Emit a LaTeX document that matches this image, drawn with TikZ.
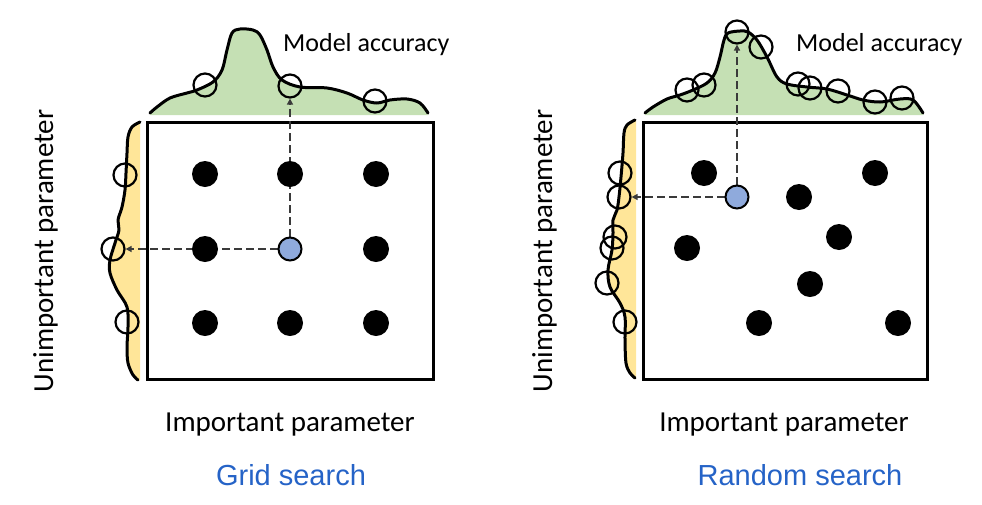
\documentclass[tikz,border=0pt]{standalone}
\usepackage{fontspec}
\setmainfont{Carlito}
\newfontfamily\arialfont{Liberation Sans}
\usetikzlibrary{arrows.meta}
\pgfdeclarelayer{bg}
\pgfdeclarelayer{mid}
\pgfsetlayers{bg,mid,main}
\definecolor{accgreen}{HTML}{C5E0B4}
\definecolor{accyellow}{HTML}{FFE699}
\definecolor{dotblue}{HTML}{8FAADC}
\definecolor{titleblue}{HTML}{2563C7}
\definecolor{dashgray}{HTML}{3A3A3A}
\tikzset{
  dot/.style={circle, fill=black, minimum size=26pt, inner sep=0pt},
  bluedot/.style={circle, fill=dotblue, draw=black, line width=2pt, minimum size=23pt, inner sep=0pt},
  ring/.style={circle, draw=black, line width=2.2pt, minimum size=23pt, inner sep=0pt},
  frame/.style={draw=black, line width=3pt},
  curve/.style={draw=black, line width=3pt, line join=round, line cap=round},
  probe/.style={draw=dashgray, line width=1.6pt, dash pattern=on 8pt off 4pt, -{Triangle[length=6pt,width=6pt]}},
  lab/.style={inner sep=0pt, font=\fontsize{29}{34}\selectfont},
  acc/.style={inner sep=0pt, font=\fontsize{26}{31}\selectfont, anchor=base west},
  title/.style={inner sep=0pt, font=\arialfont\fontsize{29}{34}\selectfont, text=titleblue, anchor=base}
}
\begin{document}
\begin{tikzpicture}[x=1pt,y=-1pt]
\useasboundingbox (0,0) rectangle (982,504);

% ---------------- background: fills, curves, frames
\begin{pgfonlayer}{bg}
% left panel top
\fill[accgreen] (150,115) -- plot[smooth, tension=0.55] coordinates {(150,113) (157,107) (170,98) (187,93) (197,90) (213,82) (222,70) (227,50) (232,33) (240,29) (253,30) (260,35) (267,50) (273,67) (282,80) (300,87) (327,88) (347,93) (363,100) (377,103) (390,100) (407,99) (420,103) (428,113)} -- (428,115) -- cycle;
\draw[curve] plot[smooth, tension=0.55] coordinates {(150,113) (157,107) (170,98) (187,93) (197,90) (213,82) (222,70) (227,50) (232,33) (240,29) (253,30) (260,35) (267,50) (273,67) (282,80) (300,87) (327,88) (347,93) (363,100) (377,103) (390,100) (407,99) (420,103) (428,113)};
% left panel side
\fill[accyellow] (140,122) -- plot[smooth, tension=0.55] coordinates {(140,122) (132,127) (128,137) (127,153) (126,173) (125,190) (122,207) (118,220) (119,230) (115,243) (110,260) (110,273) (117,290) (127,307) (128,327) (127,347) (128,363) (133,375) (138,380)} -- (140,380) -- cycle;
\draw[curve] plot[smooth, tension=0.55] coordinates {(140,122) (132,127) (128,137) (127,153) (126,173) (125,190) (122,207) (118,220) (119,230) (115,243) (110,260) (110,273) (117,290) (127,307) (128,327) (127,347) (128,363) (133,375) (138,380)};
% right panel top
\fill[accgreen] (645,115) -- plot[smooth, tension=0.55] coordinates {(645,113) (653,107) (667,99) (680,95) (693,90) (707,83) (715,73) (720,57) (724,40) (728,33) (740,31) (748,32) (757,40) (767,57) (777,77) (787,84) (807,87) (827,89) (847,95) (863,100) (880,102) (900,99) (913,100) (923,113)} -- (923,115) -- cycle;
\draw[curve] plot[smooth, tension=0.55] coordinates {(645,113) (653,107) (667,99) (680,95) (693,90) (707,83) (715,73) (720,57) (724,40) (728,33) (740,31) (748,32) (757,40) (767,57) (777,77) (787,84) (807,87) (827,89) (847,95) (863,100) (880,102) (900,99) (913,100) (923,113)};
% right panel side
\fill[accyellow] (636,120) -- plot[smooth, tension=0.55] coordinates {(635,120) (627,125) (624,133) (623,153) (621,177) (619,197) (617,210) (613,220) (613,233) (612,250) (608,270) (610,287) (620,303) (625,317) (625,340) (626,363) (630,373) (635,378)} -- (636,378) -- cycle;
\draw[curve] plot[smooth, tension=0.55] coordinates {(635,120) (627,125) (624,133) (623,153) (621,177) (619,197) (617,210) (613,220) (613,233) (612,250) (608,270) (610,287) (620,303) (625,317) (625,340) (626,363) (630,373) (635,378)};
% frames
\draw[frame] (147,122) rectangle (433,379);
\draw[frame] (643,122) rectangle (927,379);
\end{pgfonlayer}

% ---------------- left panel (grid search)
\node[dot] (d11) at (205,174) {};
\node[dot] (d12) at (290,174) {};
\node[dot] (d13) at (376,174) {};
\node[dot] (d21) at (205,249) {};
\node[bluedot] (bL) at (290,249) {};
\node[dot] (d23) at (376,249) {};
\node[dot] (d31) at (205,323) {};
\node[dot] (d32) at (290,323) {};
\node[dot] (d33) at (376,323) {};

\node[ring] (a1) at (205,85) {};
\node[ring] (a2) at (290,86) {};
\node[ring] (a3) at (375,101) {};
\node[ring] (s1) at (125,175) {};
\node[ring] (s2) at (113,249) {};
\node[ring] (s3) at (127,322) {};

% ---------------- right panel (random search)
\node[dot] (r1) at (704,173) {};
\node[dot] (r2) at (875,173) {};
\node[dot] (r3) at (799,197) {};
\node[bluedot] (bR) at (737,197) {};
\node[dot] (r4) at (839,237) {};
\node[dot] (r5) at (687,248) {};
\node[dot] (r6) at (810,284) {};
\node[dot] (r7) at (759,323) {};
\node[dot] (r8) at (898,323) {};

\node[ring] (A1) at (687,90) {};
\node[ring] (A2) at (704,85) {};
\node[ring] (A3) at (737,32) {};
\node[ring] (A4) at (761,47) {};
\node[ring] (A5) at (798,84) {};
\node[ring] (A6) at (810,88) {};
\node[ring] (A7) at (838,91) {};
\node[ring] (A8) at (875,102) {};
\node[ring] (A9) at (902,98) {};
\node[ring] (S1) at (620,173) {};
\node[ring] (S2) at (619,197) {};
\node[ring] (S3) at (615,237) {};
\node[ring] (S4) at (612,248) {};
\node[ring] (S5) at (607,283) {};
\node[ring] (S6) at (625,322) {};

% ---------------- probes
\begin{pgfonlayer}{mid}
\draw[probe] (bL) -- (a2);
\draw[probe] (bL) -- (s2);
\draw[probe] (bR) -- (A3);
\draw[probe] (bR) -- (S2);
\end{pgfonlayer}

% ---------------- labels
\node[acc] (accL) at (283,51) {Model accuracy};
\node[acc] (accR) at (796,51) {Model accuracy};
\node[lab, anchor=base] (impL) at (290,431) {Important parameter};
\node[lab, anchor=base] (impR) at (784,431) {Important parameter};
\node[lab, anchor=base, rotate=90] (uniL) at (53,251) {Unimportant parameter};
\node[lab, anchor=base, rotate=90] (uniR) at (552,251) {Unimportant parameter};
\node[title] (tL) at (291,485) {Grid search};
\node[title] (tR) at (800,485) {Random search};
\end{tikzpicture}
\end{document}
